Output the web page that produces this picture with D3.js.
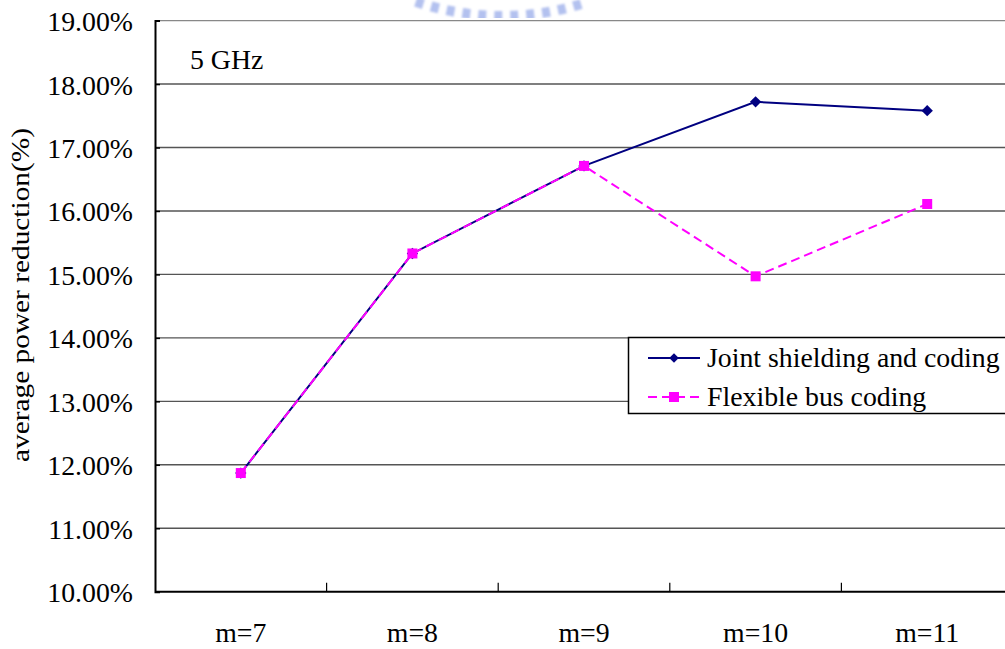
<!DOCTYPE html>
<html>
<head>
<meta charset="utf-8">
<script src="https://cdn.jsdelivr.net/npm/d3@7"></script>
<style>
  html, body { margin: 0; padding: 0; background: #fff; }
  svg { display: block; }
  text { font-family: "Liberation Serif", "Times New Roman", serif; fill: #000; }
</style>
</head>
<body>
<svg id="chart" width="1005" height="649"></svg>
<script>
// Chart data
const categories = ["m=7", "m=8", "m=9", "m=10", "m=11"];
const jointShielding = [11.87, 15.33, 16.71, 17.72, 17.58];
const flexibleBus = [11.87, 15.33, 16.71, 14.97, 16.11];
const yTicks = [10, 11, 12, 13, 14, 15, 16, 17, 18, 19];
const seriesNames = ["Joint shielding and coding", "Flexible bus coding"];

const FONT_SIZE = 27.8;

const svg = d3.select("#chart");

const plot = { left: 155, right: 1013, top: 20.6, bottom: 591.7 };

const x = d3.scaleBand().domain(categories).range([plot.left, plot.right]).padding(0);
const y = d3.scaleLinear().domain([10, 19]).range([plot.bottom, plot.top]);
const cx = d => x(d) + x.bandwidth() / 2;

// faint emblem at the top of the page
svg.append("defs").append("filter").attr("id", "soft")
  .append("feGaussianBlur").attr("stdDeviation", 0.8);
const emblem = d3.path();
emblem.arc(502, -250, 266, Math.PI / 2 + 0.33, Math.PI / 2 - 0.33, true);
svg.append("path")
  .attr("d", emblem.toString())
  .attr("fill", "none")
  .attr("stroke", "#b3c1ef")
  .attr("stroke-width", 10)
  .attr("stroke-dasharray", "8 8")
  .attr("filter", "url(#soft)");

// horizontal gridlines
svg.append("g")
  .selectAll("line")
  .data(yTicks.filter(v => v > 10))
  .join("line")
  .attr("x1", plot.left).attr("x2", plot.right)
  .attr("y1", d => y(d)).attr("y2", d => y(d))
  .attr("stroke", d => d === 19 ? "#888" : "#555")
  .attr("stroke-width", 1.4);

// y axis
const yAxis = d3.axisLeft(y).tickValues(yTicks).tickSize(-5).tickPadding(22)
  .tickFormat(d => d3.format(".2f")(d) + "%");
const gy = svg.append("g").attr("transform", `translate(${plot.left},0)`).call(yAxis);
gy.select(".domain").attr("stroke", "#000").attr("stroke-width", 2);
gy.selectAll(".tick line").attr("stroke", "#000").attr("stroke-width", 1.5);
gy.selectAll(".tick text")
  .attr("font-size", FONT_SIZE)
  .attr("font-family", "Liberation Serif, serif")
  .attr("dy", "0.36em");

// x axis with tick marks at category boundaries
const gx = svg.append("g").attr("transform", `translate(0,${plot.bottom})`);
gx.append("line")
  .attr("x1", plot.left).attr("x2", plot.right)
  .attr("y1", 0).attr("y2", 0)
  .attr("stroke", "#000").attr("stroke-width", 2);
gx.selectAll("line.tick")
  .data(categories.slice(1))
  .join("line")
  .attr("class", "tick")
  .attr("x1", d => x(d)).attr("x2", d => x(d))
  .attr("y1", 0).attr("y2", -9)
  .attr("stroke", "#000").attr("stroke-width", 1.2);
gx.selectAll("text")
  .data(categories)
  .join("text")
  .attr("x", d => cx(d))
  .attr("y", 50)
  .attr("text-anchor", "middle")
  .attr("font-size", FONT_SIZE)
  .text(d => d);

// y axis title
svg.append("text")
  .attr("transform", "translate(29,295) rotate(-90)")
  .attr("text-anchor", "middle")
  .attr("font-size", 26)
  .attr("textLength", 334)
  .attr("lengthAdjust", "spacingAndGlyphs")
  .text("average power reduction(%)");

// frequency note
svg.append("text")
  .attr("x", 190).attr("y", 69)
  .attr("font-size", FONT_SIZE)
  .text("5 GHz");

// series lines
const line = d3.line().x((d, i) => cx(categories[i])).y(d => y(d));

svg.append("path")
  .datum(jointShielding)
  .attr("d", line)
  .attr("fill", "none")
  .attr("stroke", "#000080")
  .attr("stroke-width", 2);

svg.append("path")
  .datum(flexibleBus)
  .attr("d", line)
  .attr("fill", "none")
  .attr("stroke", "#ff00ff")
  .attr("stroke-width", 2)
  .attr("stroke-dasharray", "9 5");

// markers: diamonds for joint shielding, squares for flexible bus coding
svg.append("g").selectAll("path")
  .data(jointShielding)
  .join("path")
  .attr("d", d3.symbol().type(d3.symbolSquare).size(64))
  .attr("transform", (d, i) => `translate(${cx(categories[i])},${y(d)}) rotate(45)`)
  .attr("fill", "#000080");

svg.append("g").selectAll("rect")
  .data(flexibleBus)
  .join("rect")
  .attr("x", (d, i) => cx(categories[i]) - 5)
  .attr("y", d => y(d) - 5)
  .attr("width", 10).attr("height", 10)
  .attr("fill", "#ff00ff");

// legend
const legend = svg.append("g");
legend.append("rect")
  .attr("x", 628.5).attr("y", 337.5)
  .attr("width", 390).attr("height", 76)
  .attr("fill", "#fff")
  .attr("stroke", "#000")
  .attr("stroke-width", 1.5);

const legendRows = [
  { name: seriesNames[0], color: "#000080", dash: null, marker: "diamond", y: 358 },
  { name: seriesNames[1], color: "#ff00ff", dash: "9 5", marker: "square", y: 397 }
];
legendRows.forEach(r => {
  legend.append("line")
    .attr("x1", 648).attr("x2", 700)
    .attr("y1", r.y).attr("y2", r.y)
    .attr("stroke", r.color).attr("stroke-width", 2)
    .attr("stroke-dasharray", r.dash);
  if (r.marker === "diamond") {
    legend.append("path")
      .attr("d", d3.symbol().type(d3.symbolSquare).size(45))
      .attr("transform", `translate(674,${r.y}) rotate(45)`)
      .attr("fill", r.color);
  } else {
    legend.append("rect")
      .attr("x", 669).attr("y", r.y - 5)
      .attr("width", 10).attr("height", 10)
      .attr("fill", r.color);
  }
  legend.append("text")
    .attr("x", 707).attr("y", r.y + 9)
    .attr("font-size", FONT_SIZE)
    .text(r.name);
});
</script>
</body>
</html>
